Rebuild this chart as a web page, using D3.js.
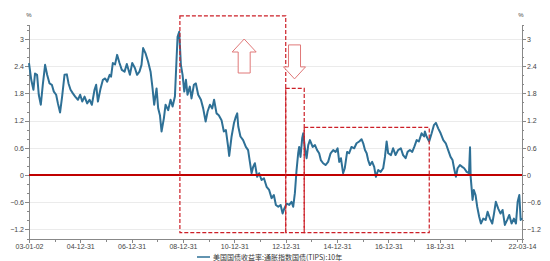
<!DOCTYPE html>
<meta charset="utf-8">
<style>
body { margin: 0; background: #fff; }
text { font-family: "Liberation Sans", Arial, sans-serif; fill: #444; }
.grid line { stroke: #ebebeb; stroke-width: 1px; shape-rendering: crispEdges; }
.grid path { stroke-width: 0; }
.axis path, .axis line { stroke: #888; shape-rendering: crispEdges; }
.series { fill: none; stroke: #2e7096; stroke-width: 2px; stroke-linejoin: round; }
.zero { stroke: #c00000; stroke-width: 2px; }
.box { fill: none; stroke: #cc1f27; stroke-width: 1.2px; stroke-dasharray: 4,2; }
.arrow { fill: #fff; stroke: #e07878; stroke-width: 1px; }
.legend-text { font-family: "Noto Sans CJK SC", sans-serif; font-size: 7px; fill: #333; }
</style>
<body>
<script src="https://d3js.org/d3.v7.min.js"></script>
<script>

// 10y TIPS yield
var dates = [
    "2003-01-02","2003-02-03","2003-03-06","2003-03-29","2003-04-27","2003-05-21","2003-06-19","2003-07-17","2003-08-19","2003-09-17",
    "2003-10-21","2003-11-23","2003-12-21","2004-01-23","2004-02-17","2004-03-19","2004-04-17","2004-05-21","2004-06-23","2004-07-17",
    "2004-08-15","2004-09-17","2004-10-20","2004-11-28","2004-12-30","2005-01-28","2005-03-02","2005-04-08","2005-05-12","2005-06-14",
    "2005-07-22","2005-08-14","2005-09-08","2005-10-16","2005-11-18","2005-12-20","2006-01-18","2006-02-22","2006-03-14","2006-04-08",
    "2006-05-10","2006-06-08","2006-07-12","2006-08-14","2006-09-22","2006-10-24","2006-12-07","2007-01-09","2007-02-16","2007-03-19",
    "2007-04-22","2007-05-21","2007-06-13","2007-07-16","2007-08-23","2007-09-27","2007-10-25","2007-11-17","2007-12-21","2008-01-13",
    "2008-02-07","2008-03-01","2008-04-03","2008-04-27","2008-06-03","2008-07-07","2008-08-05","2008-09-07","2008-10-01","2008-10-15",
    "2008-11-07","2008-12-01","2008-12-25","2009-01-18","2009-02-11","2009-03-05","2009-04-07","2009-05-01","2009-06-04","2009-07-02",
    "2009-08-04","2009-09-12","2009-10-14","2009-11-18","2009-12-16","2010-01-18","2010-02-20","2010-03-18","2010-04-22","2010-05-24",
    "2010-07-02","2010-08-04","2010-09-02","2010-10-04","2010-10-19","2010-11-22","2010-12-25","2011-01-22","2011-02-10","2011-02-25",
    "2011-03-28","2011-05-05","2011-06-13","2011-07-15","2011-08-09","2011-09-02","2011-09-25","2011-10-19","2011-11-21","2011-12-19",
    "2012-01-22","2012-02-25","2012-04-03","2012-05-09","2012-06-13","2012-07-15","2012-08-13","2012-09-16","2012-10-19","2012-11-17",
    "2012-12-10","2013-01-13","2013-02-19","2013-03-23","2013-04-16","2013-05-10","2013-06-03","2013-06-26","2013-07-10","2013-07-29",
    "2013-08-22","2013-09-06","2013-09-30","2013-10-24","2013-11-16","2013-12-10","2014-01-18","2014-02-20","2014-03-22","2014-04-20",
    "2014-05-14","2014-06-16","2014-07-20","2014-08-26","2014-09-30","2014-11-06","2014-12-10","2015-01-08","2015-01-31","2015-02-24",
    "2015-03-27","2015-04-20","2015-05-23","2015-06-21","2015-07-24","2015-09-01","2015-10-04","2015-11-11","2015-12-14","2016-01-07",
    "2016-02-01","2016-02-25","2016-03-17","2016-04-11","2016-05-13","2016-06-11","2016-07-05","2016-08-07","2016-09-11","2016-10-17",
    "2016-11-11","2016-12-05","2016-12-27","2017-02-05","2017-03-07","2017-04-11","2017-05-17","2017-06-25","2017-07-27","2017-09-01",
    "2017-09-29","2017-11-01","2017-12-04","2018-01-02","2018-02-05","2018-03-08","2018-04-16","2018-05-22","2018-06-02","2018-06-26",
    "2018-08-02","2018-09-06","2018-10-08","2018-11-06","2018-12-08","2019-01-12","2019-02-19","2019-03-26","2019-04-29","2019-06-02",
    "2019-06-30","2019-07-22","2019-08-17","2019-09-10","2019-10-13","2019-11-15","2019-12-13","2020-01-17","2020-02-19","2020-03-05",
    "2020-03-14","2020-03-26","2020-04-10","2020-04-28","2020-05-22","2020-06-15","2020-07-13","2020-08-07","2020-09-09","2020-10-13",
    "2020-11-10","2020-12-13","2021-01-15","2021-02-09","2021-03-07","2021-04-10","2021-05-13","2021-06-11","2021-07-13","2021-08-16",
    "2021-09-14","2021-10-17","2021-11-19","2021-12-18","2022-01-11","2022-02-04","2022-02-23","2022-03-14"
];
var yields = [
    2.47,2.10,1.88,2.24,2.21,1.77,1.55,1.99,2.43,2.21,
    2.02,1.99,1.84,1.77,1.58,1.38,1.73,2.21,2.22,2.02,
    1.88,1.80,1.73,1.66,1.77,1.62,1.73,1.58,1.66,1.55,
    1.88,1.99,1.62,1.91,2.10,2.13,2.06,2.21,2.17,2.47,
    2.44,2.65,2.47,2.32,2.28,2.45,2.21,2.47,2.36,2.21,
    2.28,2.43,2.80,2.69,2.50,2.28,1.91,1.55,1.91,1.47,
    1.32,0.96,1.25,1.55,1.43,1.66,1.51,1.73,2.58,3.05,
    3.16,2.43,2.21,1.84,2.10,1.77,1.95,1.69,1.99,2.02,
    1.77,1.66,1.47,1.18,1.40,1.55,1.47,1.66,1.36,1.32,
    1.21,0.96,0.99,0.62,0.42,0.85,1.14,1.29,1.36,1.07,
    0.85,0.77,0.62,0.55,0.29,0.04,0.18,0.26,-0.04,0.04,
    -0.11,-0.07,-0.26,-0.33,-0.51,-0.44,-0.66,-0.70,-0.66,-0.85,
    -0.74,-0.63,-0.66,-0.59,-0.70,-0.40,0.11,0.48,0.62,0.40,
    0.81,0.92,0.59,0.37,0.66,0.77,0.62,0.66,0.55,0.48,
    0.33,0.26,0.22,0.29,0.48,0.55,0.51,0.59,0.29,0.37,
    0.04,0.15,0.51,0.48,0.62,0.59,0.70,0.74,0.79,0.70,
    0.55,0.48,0.33,0.22,0.29,0.18,-0.04,0.11,0.07,0.15,
    0.40,0.74,0.48,0.44,0.59,0.44,0.55,0.59,0.44,0.37,
    0.51,0.55,0.51,0.62,0.77,0.74,0.92,0.85,0.96,0.85,
    0.74,0.92,1.10,1.15,1.03,0.92,0.77,0.70,0.55,0.40,
    0.33,0.15,-0.04,0.15,0.22,0.18,0.15,0.07,0.04,0.61,
    -0.04,-0.26,-0.55,-0.33,-0.44,-0.70,-0.92,-1.07,-0.96,-0.99,
    -0.81,-0.96,-1.07,-0.85,-0.59,-0.74,-0.85,-0.77,-1.10,-0.99,
    -0.88,-1.07,-0.96,-1.07,-0.59,-0.44,-0.99,-0.95
];

var yTicks = [-1.2, -0.6, 0, 0.6, 1.2, 1.8, 2.4, 3];
var xTickDates = ["2003-01-02","2004-12-31","2006-12-31","2008-12-31","2010-12-31","2012-12-31","2014-12-31","2016-12-31","2018-12-31","2022-03-14"];
var xTickLabels = ["03-01-02","04-12-31","06-12-31","08-12-31","10-12-31","12-12-31","14-12-31","16-12-31","18-12-31","22-03-14"];
var seriesName = "美国国债收益率:通胀指数国债(TIPS):10年";

// dashed annotation boxes: start, end, top value
var boxStarts = ["2008-11-17","2012-12-31","2013-09-20"];
var boxEnds   = ["2012-12-31","2013-09-20","2018-08-03"];
var boxTops   = [3.51, 1.91, 1.05];
var boxBottom = -1.27;

// arrows: date, top value, direction
var arrowDates = ["2011-05-20","2013-05-05"];
var arrowTops  = [3.0, 2.87];
var arrowDirs  = ["up","down"];

var parse = d3.timeParse("%Y-%m-%d");
var data = dates.map(function(d, i) { return {date: parse(d), value: yields[i]}; });

var W = 550, H = 261;
var svg = d3.select("body").append("svg")
    .attr("width", W)
    .attr("height", H);

var x = d3.scaleTime().domain([parse("2003-01-02"), parse("2022-03-14")]).range([29, 522]);
var y = d3.scaleLinear().domain([-1.4, 3.3]).range([238.5, 25.4]);

// grid
svg.append("g")
    .attr("class", "grid")
    .attr("transform", "translate(29,0)")
    .call(d3.axisLeft(y).tickValues(yTicks).tickSize(-(522 - 29)).tickFormat(""));

// minor y ticks
var minor = d3.range(-1.4, 3.31, 0.2).map(function(v) { return Math.round(v * 10) / 10; });

// left axis
svg.append("g")
    .attr("class", "axis")
    .attr("transform", "translate(29,0)")
    .call(d3.axisLeft(y).tickValues(minor).tickSize(2).tickFormat(""));
var yl = svg.append("g")
    .attr("class", "axis")
    .attr("transform", "translate(29,0)")
    .call(d3.axisLeft(y).tickValues(yTicks).tickSize(4).tickSizeOuter(0).tickFormat(d3.format("")));
yl.selectAll("text").style("font-size", "7px").attr("x", -5);

// right axis
svg.append("g")
    .attr("class", "axis")
    .attr("transform", "translate(522,0)")
    .call(d3.axisRight(y).tickValues(minor).tickSize(2).tickFormat(""));
var yr = svg.append("g")
    .attr("class", "axis")
    .attr("transform", "translate(522,0)")
    .call(d3.axisRight(y).tickValues(yTicks).tickSize(4).tickSizeOuter(0).tickFormat(d3.format("")));
yr.selectAll("text").style("font-size", "7px").attr("x", 5);

svg.append("text").attr("x", 29).attr("y", 17).attr("text-anchor", "middle").style("font-size", "6px").text("%");
svg.append("text").attr("x", 521).attr("y", 17).attr("text-anchor", "middle").style("font-size", "6px").text("%");

// x axis
var yearEnds = d3.range(2003, 2022).map(function(yr) { return new Date(yr, 11, 31); });
svg.append("g")
    .attr("class", "axis")
    .attr("transform", "translate(0,238.5)")
    .call(d3.axisBottom(x).tickValues(yearEnds).tickSize(3).tickFormat(""));
var xa = svg.append("g")
    .attr("class", "axis")
    .attr("transform", "translate(0,238.5)")
    .call(d3.axisBottom(x).tickValues(xTickDates.map(parse)).tickSize(4).tickSizeOuter(0)
        .tickFormat(function(d, i) { return xTickLabels[i]; }));
xa.selectAll("text").style("font-size", "7px").attr("y", 6);

// series line
svg.append("path")
    .datum(data)
    .attr("class", "series")
    .attr("d", d3.line().x(function(d) { return x(d.date); }).y(function(d) { return y(d.value); }));

// zero line
svg.append("line")
    .attr("class", "zero")
    .attr("x1", x.range()[0]).attr("x2", x.range()[1])
    .attr("y1", y(0)).attr("y2", y(0));

// dashed boxes
svg.selectAll(".box")
    .data(boxStarts)
    .enter().append("rect")
    .attr("class", "box")
    .attr("x", function(d) { return x(parse(d)); })
    .attr("width", function(d, i) { return x(parse(boxEnds[i])) - x(parse(d)); })
    .attr("y", function(d, i) { return y(boxTops[i]); })
    .attr("height", function(d, i) { return y(boxBottom) - y(boxTops[i]); });

// hollow arrows
var upArrow = "M0,0 L12,13 L6,13 L6,34 L-6,34 L-6,13 L-12,13 Z";
var downArrow = "M-6,0 L6,0 L6,22 L11,22 L0,34 L-11,22 L-6,22 Z";
svg.selectAll(".arrow")
    .data(arrowDates)
    .enter().append("path")
    .attr("class", "arrow")
    .attr("transform", function(d, i) { return "translate(" + x(parse(d)) + "," + y(arrowTops[i]) + ")"; })
    .attr("d", function(d, i) { return arrowDirs[i] == "up" ? upArrow : downArrow; });

// legend
svg.append("line")
    .attr("x1", 197).attr("x2", 210).attr("y1", 257).attr("y2", 257)
    .style("stroke", "#2e7096").style("stroke-width", "1.5px");
svg.append("text")
    .attr("class", "legend-text")
    .attr("x", 213).attr("y", 259.5)
    .text(seriesName);

</script>
</body>
